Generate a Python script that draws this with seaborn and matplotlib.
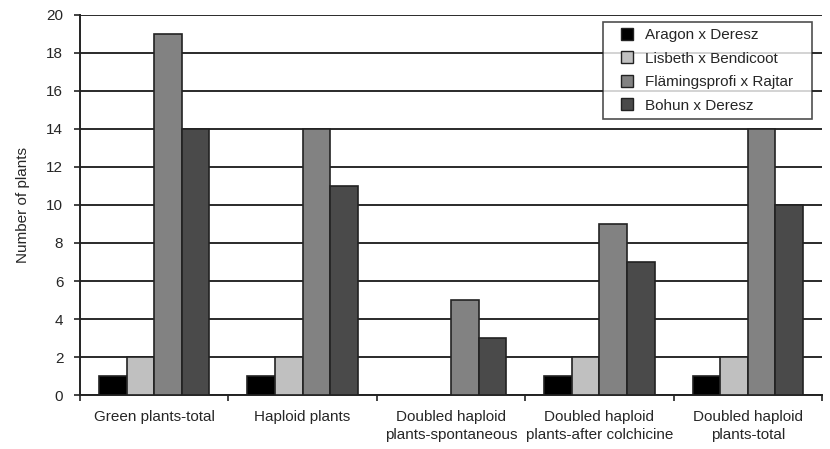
import pandas as pd
import numpy as np
import matplotlib
matplotlib.use('Agg')
import matplotlib.pyplot as plt
from matplotlib.lines import Line2D
import seaborn as sns

categories = ['Green plants-total', 'Haploid plants',
              'Doubled haploid\nplants-spontaneous',
              'Doubled haploid\nplants-after colchicine',
              'Doubled haploid\nplants-total']
crosses = ['Aragon x Deresz', 'Lisbeth x Bendicoot',
           'Flämingsprofi x Rajtar', 'Bohun x Deresz']
aragon = [1, 1, 0, 1, 1]
lisbeth = [2, 2, 0, 2, 2]
flamingsprofi = [19, 14, 5, 9, 14]
bohun = [14, 11, 3, 7, 10]
colors = ['#000000', '#c0c0c0', '#828282', '#4a4a4a']

rows = []
for name, vals in zip(crosses, [aragon, lisbeth, flamingsprofi, bohun]):
    for cat, v in zip(categories, vals):
        rows.append({'category': cat, 'cross': name, 'plants': v})
df = pd.DataFrame(rows)

sns.set_style('white')
plt.rcParams['font.family'] = ['Liberation Sans', 'DejaVu Sans']

fig = plt.figure(figsize=(8.3, 4.49), dpi=100)
ax = fig.add_axes([0.0964, 0.12, 0.894, 0.847])

sns.barplot(data=df, x='category', y='plants', hue='cross',
            palette=colors, width=0.745, gap=0, edgecolor='#222222',
            linewidth=1.2, ax=ax, zorder=3, legend=False)

ax.set_ylim(0, 20)
ax.set_xlim(-0.5, len(categories) - 0.5)
ax.set_yticks(np.arange(0, 21, 2))
ax.yaxis.grid(True, color='#2a2a2a', linewidth=1.4, zorder=0)
ax.set_axisbelow(True)

ax.set_xlabel('')
ax.set_ylabel('Number of plants', fontsize=11, labelpad=12)
ax.tick_params(axis='y', labelsize=11, length=4, width=1.2, pad=8,
               direction='out', left=True, color='#222222')
ax.tick_params(axis='x', which='major', labelsize=11, length=0, pad=11)
for lab in ax.get_xticklabels():
    lab.set_linespacing(1.3)
ax.set_xticks(np.arange(-0.5, len(categories)), minor=True)
ax.tick_params(axis='x', which='minor', length=4, width=1.2,
               direction='out', bottom=True, color='#222222')

for side in ['top', 'right']:
    ax.spines[side].set_visible(False)
for side in ['left', 'bottom']:
    ax.spines[side].set_color('#222222')
    ax.spines[side].set_linewidth(1.4)

handles = [Line2D([], [], linestyle='none', marker='s', markersize=8.5,
                  markerfacecolor=c, markeredgecolor='#222222',
                  markeredgewidth=1.0) for c in colors]
leg = ax.legend(handles, crosses, loc='upper left', mode='expand',
                bbox_to_anchor=(0.705, 0.5, 0.2817, 0.481),
                fontsize=11, frameon=True, fancybox=False,
                edgecolor='#222222', handlelength=2.35,
                labelspacing=0.62, borderpad=0.4, handletextpad=0.0,
                borderaxespad=0)
leg.get_frame().set_linewidth(1.2)
leg.get_frame().set_facecolor('white')
leg.set_zorder(5)

fig.savefig('out.png', dpi=100)
